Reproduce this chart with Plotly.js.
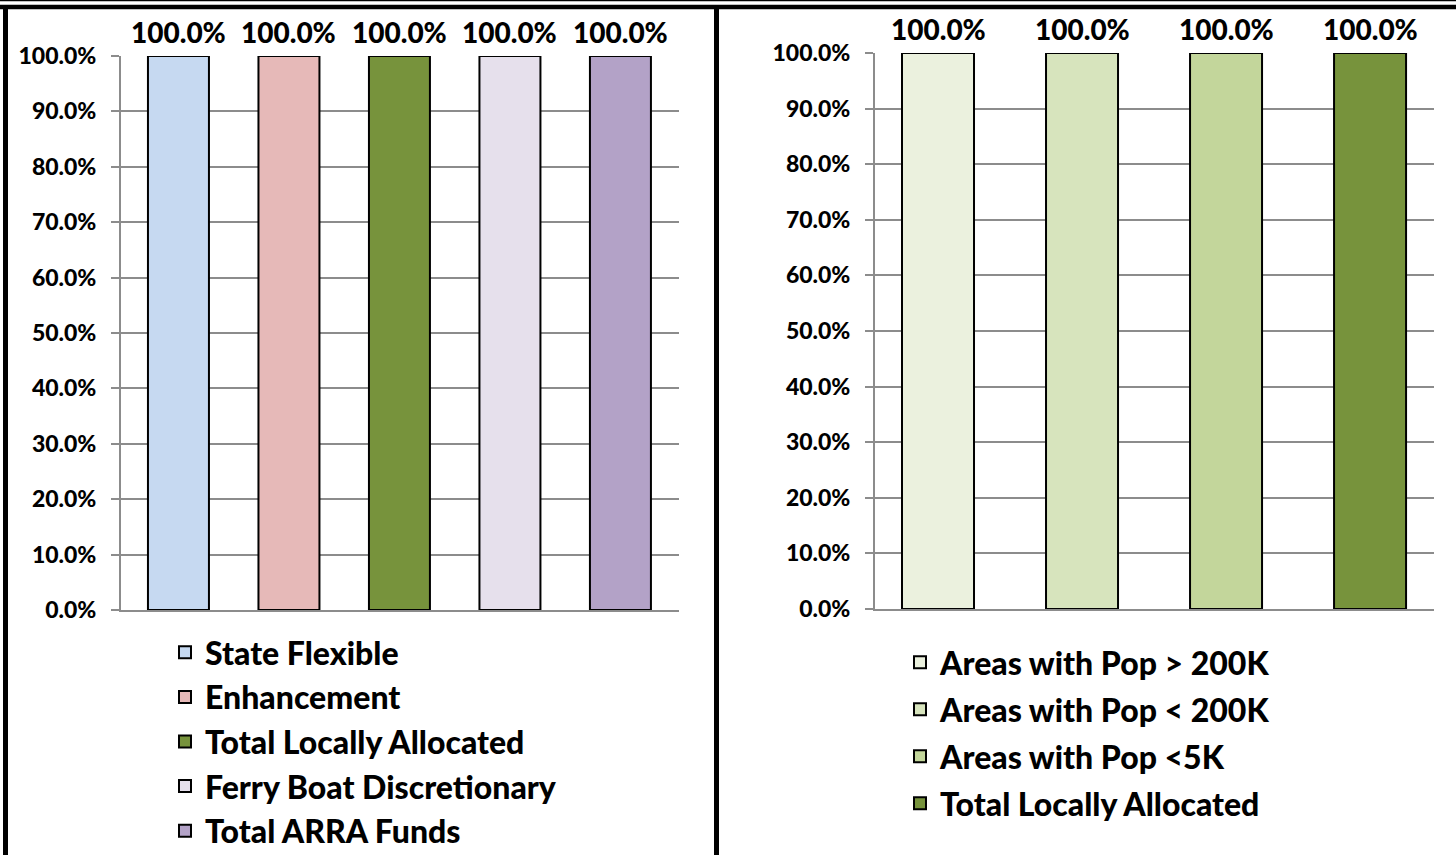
<!DOCTYPE html>
<html>
<head>
<meta charset="utf-8">
<script src="https://cdn.plot.ly/plotly-3.0.1.min.js"></script>
<style>html,body{margin:0;padding:0;background:#fff;}#chart{width:1456px;height:855px;}</style>
</head>
<body>
<div id="chart"></div>
<script>
// ---- data ----
const leftCategories = ["State Flexible", "Enhancement", "Total Locally Allocated", "Ferry Boat Discretionary", "Total ARRA Funds"];
const leftValues = [1.0, 1.0, 1.0, 1.0, 1.0];
const leftColors = ["#C6D9F1", "#E6B9B8", "#77933C", "#E6E0EC", "#B3A2C7"];

const rightCategories = ["Areas with Pop > 200K", "Areas with Pop < 200K", "Areas with Pop <5K", "Total Locally Allocated"];
const rightValues = [1.0, 1.0, 1.0, 1.0];
const rightColors = ["#EBF1DE", "#D7E4BD", "#C3D69B", "#77933C"];

const yTickValues = [0, 0.1, 0.2, 0.3, 0.4, 0.5, 0.6, 0.7, 0.8, 0.9, 1.0];

// ---- helpers ----
const FONT = "Lato, 'Open Sans', sans-serif";
const WEIGHT = 900;
const GRAY = "#8c8c8c";
const W = 1456, H = 855;
const px = v => v / W;
const py = v => 1 - v / H;
const fmt = v => (v * 100).toFixed(1) + "%";

const traces = [];
const annotations = [];

function addChart(cats, vals, cols, xa, ya, legendName, width) {
  cats.forEach((c, i) => {
    traces.push({
      type: "bar",
      x: [c],
      y: [vals[i]],
      name: c,
      width: width,
      marker: {color: cols[i], line: {color: "#000", width: 2}},
      xaxis: xa, yaxis: ya,
      legend: legendName,
      legendgroup: legendName + i,
      hoverinfo: "skip"
    });
    annotations.push({
      x: c, y: vals[i], xref: xa, yref: ya,
      text: fmt(vals[i]),
      showarrow: false, yanchor: "bottom", yshift: 5,
      font: {family: FONT, size: 28, color: "#000", weight: WEIGHT}
    });
  });
}

addChart(leftCategories, leftValues, leftColors, "x", "y", "legend", 0.552);
addChart(rightCategories, rightValues, rightColors, "x2", "y2", "legend2", 0.5);

function yAxis(domain, anchor) {
  return {
    domain: domain, anchor: anchor, range: [0, 1],
    tickvals: yTickValues, tickformat: ".1%",
    showline: true, linecolor: GRAY, linewidth: 2,
    ticks: "outside", ticklen: 8, tickcolor: GRAY, tickwidth: 2,
    showgrid: true, gridcolor: GRAY, gridwidth: 2,
    zeroline: false, ticklabelstandoff: 10,
    tickfont: {family: FONT, size: 23, color: "#000", weight: WEIGHT},
    fixedrange: true
  };
}
function xAxis(domain, anchor, range) {
  return {
    domain: domain, anchor: anchor, range: range, type: "category",
    showline: true, linecolor: GRAY, linewidth: 2,
    showticklabels: false, ticks: "", showgrid: false, zeroline: false,
    fixedrange: true
  };
}

const shapes = [
  {type: "line", xref: "paper", yref: "paper", x0: 0, x1: 1, y0: py(0.5), y1: py(0.5), line: {color: "#000", width: 1.5}},
  {type: "line", xref: "paper", yref: "paper", x0: 0, x1: 1, y0: py(7), y1: py(7), line: {color: "#000", width: 4.5}},
  {type: "line", xref: "paper", yref: "paper", x0: px(5.5), x1: px(5.5), y0: py(5), y1: 0, line: {color: "#000", width: 5}},
  {type: "line", xref: "paper", yref: "paper", x0: px(716.5), x1: px(716.5), y0: py(5), y1: 0, line: {color: "#000", width: 5}}
];

const legendFont = {family: FONT, size: 32, color: "#000", weight: WEIGHT};

const layout = {
  width: W, height: H,
  margin: {l: 0, r: 0, t: 0, b: 0, autoexpand: false},
  paper_bgcolor: "#fff", plot_bgcolor: "#fff",
  showlegend: true,
  barmode: "group",
  xaxis: xAxis([px(121), px(679)], "y", [-0.52, 4.53]),
  yaxis: yAxis([1 - 610 / H, 1 - 56 / H], "x"),
  xaxis2: xAxis([px(875), px(1434)], "y2", [-0.4375, 3.444]),
  yaxis2: yAxis([1 - 609 / H, 1 - 53 / H], "x2"),
  legend: {x: px(165), y: py(625), xanchor: "left", yanchor: "top", font: legendFont,
           traceorder: "grouped", tracegroupgap: 0, bgcolor: "rgba(0,0,0,0)", borderwidth: 0},
  legend2: {x: px(900), y: py(635), xanchor: "left", yanchor: "top", font: legendFont,
            traceorder: "grouped", tracegroupgap: 2.4, bgcolor: "rgba(0,0,0,0)", borderwidth: 0},
  annotations: annotations,
  shapes: shapes
};

Plotly.newPlot("chart", traces, layout, {displayModeBar: false, staticPlot: true});
</script>
</body>
</html>
